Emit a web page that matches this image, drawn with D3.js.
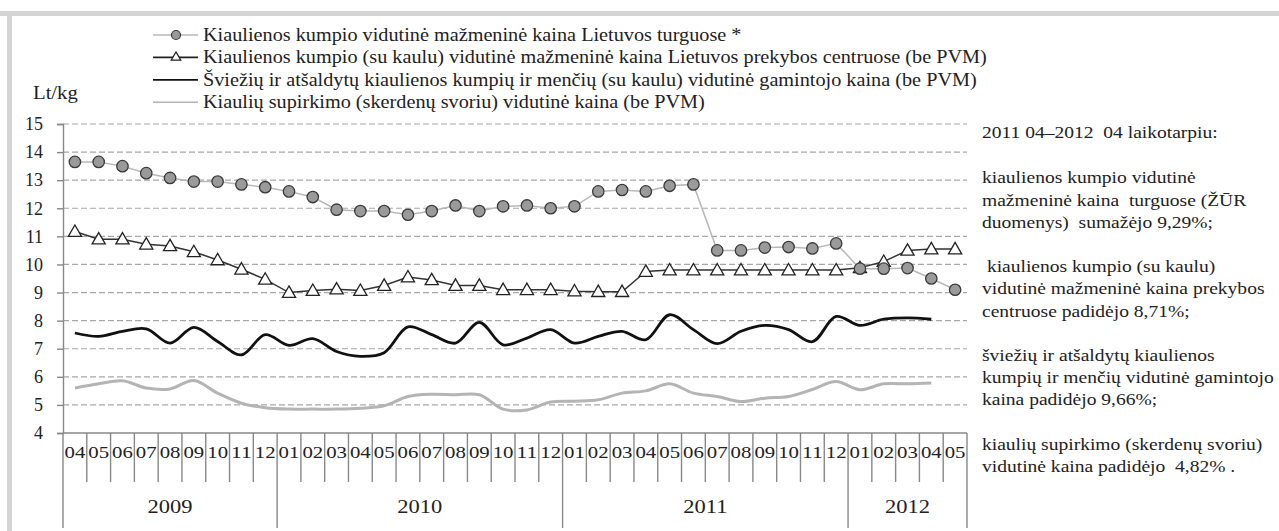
<html>
<head>
<meta charset="utf-8">
<style>
  body { margin: 0; background: #fff; }
  svg text { font-family: "Liberation Serif", "Times New Roman", serif; fill: #222; }
</style>
</head>
<body>
<script src="https://d3js.org/d3.v7.min.js"></script>
<svg width="1279" height="531"></svg>
<script type="text/javascript">
// months from 2009 04 to 2012 05
var monthLabels = ["04","05","06","07","08","09","10","11","12",
                   "01","02","03","04","05","06","07","08","09","10","11","12",
                   "01","02","03","04","05","06","07","08","09","10","11","12",
                   "01","02","03","04","05"];
var years = [{name: "2009", n: 9}, {name: "2010", n: 12}, {name: "2011", n: 12}, {name: "2012", n: 5}];
var yTicks = [4,5,6,7,8,9,10,11,12,13,14,15];

// turgus (circles)
var marketPrice = [13.65,13.65,13.5,13.25,13.08,12.95,12.95,12.85,12.75,12.6,12.4,11.95,11.9,11.9,11.77,
                   11.9,12.1,11.9,12.07,12.1,12.0,12.07,12.6,12.65,12.6,12.8,12.85,10.5,10.5,10.6,10.62,10.57,
                   10.75,9.85,9.85,9.87,9.5,9.1];
// prekybos centrai (triangles)
var retailPrice = [11.17,10.9,10.9,10.72,10.66,10.45,10.16,9.83,9.47,9.0,9.07,9.12,9.07,9.25,9.55,
                   9.45,9.25,9.25,9.1,9.1,9.1,9.05,9.03,9.03,9.75,9.8,9.8,9.8,9.8,9.8,9.8,9.8,
                   9.8,9.88,10.1,10.5,10.55,10.55];
// gamintojo kaina (black)
var producerPrice = [7.56,7.44,7.62,7.71,7.2,7.76,7.26,6.78,7.5,7.12,7.36,6.9,6.73,6.86,7.78,
                     7.5,7.2,7.94,7.14,7.38,7.68,7.2,7.44,7.62,7.32,8.21,7.68,7.18,7.62,7.83,7.68,7.25,
                     8.15,7.83,8.05,8.1,8.05];
// supirkimo kaina (gray)
var purchasePrice = [5.6,5.75,5.86,5.6,5.57,5.87,5.42,5.06,4.9,4.85,4.85,4.85,4.88,4.97,5.3,
                     5.38,5.36,5.36,4.85,4.82,5.1,5.13,5.18,5.42,5.5,5.75,5.42,5.3,5.12,5.24,5.3,5.55,
                     5.83,5.54,5.75,5.75,5.78];

var legendLabels = [
  "Kiaulienos kumpio vidutinė mažmeninė kaina Lietuvos turguose *",
  "Kiaulienos kumpio (su kaulu) vidutinė mažmeninė kaina Lietuvos prekybos centruose (be PVM)",
  "Šviežių ir atšaldytų kiaulienos kumpių ir menčių (su kaulu) vidutinė gamintojo kaina (be PVM)",
  "Kiaulių supirkimo (skerdenų svoriu) vidutinė kaina (be PVM)"
];
var noteLines = [
  "2011 04–2012  04 laikotarpiu:", "",
  "kiaulienos kumpio vidutinė", "mažmeninė kaina  turguose (ŽŪR", "duomenys)  sumažėjo 9,29%;", "",
  " kiaulienos kumpio (su kaulu)", "vidutinė mažmeninė kaina prekybos", "centruose padidėjo 8,71%;", "",
  "šviežių ir atšaldytų kiaulienos", "kumpių ir menčių vidutinė gamintojo", "kaina padidėjo 9,66%;", "",
  "kiaulių supirkimo (skerdenų svoriu)", "vidutinė kaina padidėjo  4,82% ."
];

var svg = d3.select("svg");
// the source text is set a bit wide
var legendStretch = 1.125, noteStretch = 1.15;

// gray frame bands
svg.append("rect").attr("x", 0).attr("y", 11).attr("width", 1279).attr("height", 5).attr("fill", "#d4d4d4");
svg.append("rect").attr("x", 7).attr("y", 11).attr("width", 5).attr("height", 520).attr("fill", "#d4d4d4");

var plotLeft = 63, plotRight = 967, plotTop = 124, plotBottom = 433;

var x = d3.scaleBand().domain(d3.range(monthLabels.length)).range([plotLeft, plotRight]);
var y = d3.scaleLinear().domain([4, 15]).range([plotBottom, plotTop]);
var cx = function(d, i) { return x(i) + x.bandwidth() / 2; };

// grid
svg.append("g").selectAll("line").data(yTicks.slice(1)).enter().append("line")
  .attr("x1", plotLeft).attr("x2", plotRight)
  .attr("y1", function(d) { return y(d); }).attr("y2", function(d) { return y(d); })
  .attr("stroke", "#a8a8a8").attr("stroke-width", 1.2).attr("stroke-dasharray", "6,3");

// y axis
var yAxis = svg.append("g").attr("transform", "translate(" + plotLeft + ",0)")
  .call(d3.axisLeft(y).tickValues(yTicks).tickSize(6).tickPadding(14).tickFormat(d3.format("d")));
yAxis.select(".domain").attr("stroke", "#888").attr("stroke-width", 1.4);
yAxis.selectAll(".tick line").attr("stroke", "#888").attr("stroke-width", 1.4);
yAxis.selectAll("text").attr("font-size", 18).attr("font-family", "Liberation Serif").attr("fill", "#222");

// x axis line
svg.append("line").attr("x1", plotLeft).attr("x2", plotRight).attr("y1", plotBottom).attr("y2", plotBottom)
  .attr("stroke", "#888").attr("stroke-width", 1.4);

// month ticks, year separators go all the way down
var edges = d3.range(monthLabels.length + 1).map(function(i) { return i < monthLabels.length ? x(i) : plotRight; });
var yearEdges = [0];
years.forEach(function(yy) { yearEdges.push(yearEdges[yearEdges.length - 1] + yy.n); });
svg.append("g").selectAll("line").data(edges).enter().append("line")
  .attr("x1", function(d) { return d; }).attr("x2", function(d) { return d; })
  .attr("y1", plotBottom)
  .attr("y2", function(d, i) { return yearEdges.indexOf(i) >= 0 ? 528 : 482; })
  .attr("stroke", "#888").attr("stroke-width", 1.4);

svg.append("g").selectAll("text").data(monthLabels).enter().append("text")
  .attr("x", cx).attr("y", 458)
  .attr("text-anchor", "middle").attr("font-size", 17)
  .attr("textLength", x.bandwidth() - 3).attr("lengthAdjust", "spacingAndGlyphs")
  .text(function(d) { return d; });

svg.append("g").selectAll("text").data(years).enter().append("text")
  .attr("transform", function(d, i) {
    return "translate(" + (edges[yearEdges[i]] + edges[yearEdges[i + 1]]) / 2 + ",513) scale(1.25,1)";
  })
  .attr("text-anchor", "middle").attr("font-size", 18)
  .text(function(d) { return d.name; });

svg.append("text").attr("transform", "translate(33,99) scale(1.15,1)").attr("font-size", 18).text("Lt/kg");

// series lines
var straight = d3.line().x(cx).y(function(d) { return y(d); });
var smooth = d3.line().x(cx).y(function(d) { return y(d); }).curve(d3.curveCatmullRom.alpha(0.5));

svg.append("path").datum(purchasePrice).attr("d", smooth)
  .attr("fill", "none").attr("stroke", "#b4b4b4").attr("stroke-width", 3);
svg.append("path").datum(producerPrice).attr("d", smooth)
  .attr("fill", "none").attr("stroke", "#111").attr("stroke-width", 2.8);

svg.append("path").datum(retailPrice).attr("d", straight)
  .attr("fill", "none").attr("stroke", "#333").attr("stroke-width", 1.5);
var tri = d3.symbol().type(d3.symbolTriangle).size(75);
svg.append("g").selectAll("path").data(retailPrice).enter().append("path")
  .attr("d", tri)
  .attr("transform", function(d, i) { return "translate(" + cx(d, i) + "," + (y(d) + 1) + ")"; })
  .attr("fill", "#fff").attr("stroke", "#222").attr("stroke-width", 1.3);

svg.append("path").datum(marketPrice).attr("d", straight)
  .attr("fill", "none").attr("stroke", "#b8b8b8").attr("stroke-width", 1.5);
svg.append("g").selectAll("circle").data(marketPrice).enter().append("circle")
  .attr("cx", cx).attr("cy", function(d) { return y(d); }).attr("r", 5.7)
  .attr("fill", "#9a9a9a").attr("stroke", "#3a3a3a").attr("stroke-width", 1.3);

// legend
var legend = svg.append("g").selectAll("g").data(legendLabels).enter().append("g")
  .attr("transform", function(d, i) { return "translate(153," + (35 + i * 22.4) + ")"; });
var legendStroke = ["#b8b8b8", "#222", "#111", "#b4b4b4"];
var legendWidth = [1.3, 1.6, 1.8, 1.6];
legend.append("line").attr("x1", 0).attr("x2", 45)
  .attr("stroke", function(d, i) { return legendStroke[i]; })
  .attr("stroke-width", function(d, i) { return legendWidth[i]; });
legend.filter(function(d, i) { return i === 0; }).append("circle")
  .attr("cx", 23).attr("r", 4.5).attr("fill", "#9a9a9a").attr("stroke", "#3a3a3a").attr("stroke-width", 1.2);
legend.filter(function(d, i) { return i === 1; }).append("path")
  .attr("d", d3.symbol().type(d3.symbolTriangle).size(40)).attr("transform", "translate(23,0)")
  .attr("fill", "#fff").attr("stroke", "#222").attr("stroke-width", 1.2);
legend.append("text").attr("transform", "translate(50,6) scale(" + legendStretch + ",1)").attr("font-size", 18)
  .text(function(d) { return d; });

// note text on the right
svg.append("g").selectAll("text").data(noteLines).enter().append("text")
  .attr("transform", function(d, i) {
    return "translate(982," + (138 + i * 22.2 + (i >= 2 ? 1 : 0)) + ") scale(" + noteStretch + ",1)";
  })
  .attr("font-size", 17).attr("xml:space", "preserve").style("white-space", "pre")
  .text(function(d) { return d; });
</script>
</body>
</html>
